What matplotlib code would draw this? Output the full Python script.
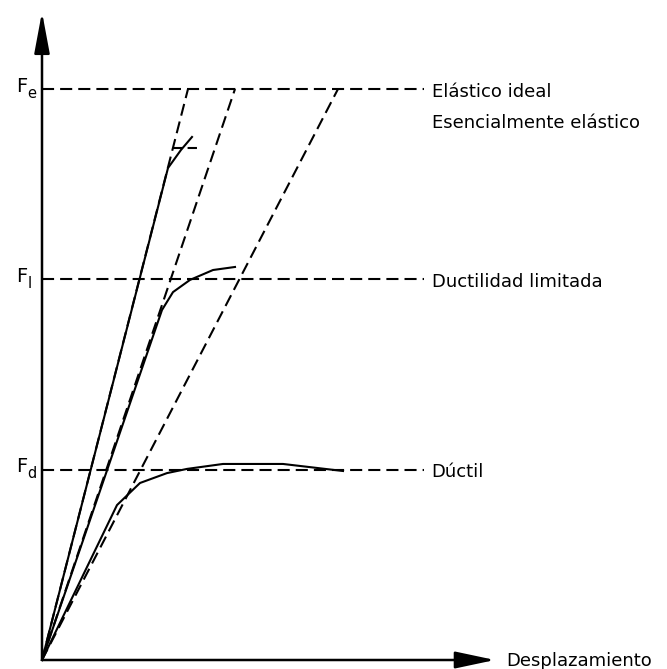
import matplotlib
matplotlib.use("Agg")
import matplotlib.pyplot as plt

plt.rcParams['font.family'] = ['DejaVu Sans']

# Force levels (relative units)
F_e, F_l, F_d = 3.0, 2.0, 1.0
force_levels = [F_e, F_l, F_d]
force_labels = [("F", "e"), ("F", "l"), ("F", "d")]
level_names = ["Elástico ideal", "Ductilidad limitada", "Dúctil"]

# Ideal elastic lines: displacement at which they reach F_e
elastic_x_at_Fe = [1.46, 1.93, 2.96]

# Responses (displacement, force)
ess_x = [0.0, 1.26, 1.39, 1.50]
ess_y = [0.0, 2.585, 2.68, 2.748]
yield_mark_x = [1.31, 1.55]
yield_mark_y = [2.69, 2.69]

lim_x = [0.0, 1.20, 1.31, 1.48, 1.71, 1.93]
lim_y = [0.0, 1.839, 1.933, 1.997, 2.049, 2.065]

duct_x = [0.0, 0.75, 0.98, 1.25, 1.45, 1.81, 2.41, 3.01]
duct_y = [0.0, 0.814, 0.930, 0.982, 1.004, 1.030, 1.030, 0.993]

W, H = 667, 669
PX_Y = 190.33  # pixels per force unit
PX_X = 100.0   # pixels per displacement unit
fig = plt.figure(figsize=(W / 100, H / 100), dpi=100)
ax = fig.add_axes([0, 0, 1, 1])
ax.set_xlim(-42 / PX_X, (W - 42) / PX_X)
ax.set_ylim(-9 / PX_Y, 660 / PX_Y)
ax.axis('off')

lw = 1.5
dash = (0, (5.8, 2.9))
line_end = 3.82
fs = 13

# axes arrows
ax.annotate('', xy=(0, 648 / PX_Y), xytext=(0, 0),
            arrowprops=dict(arrowstyle='-|>,head_length=2.52,head_width=0.47',
                            mutation_scale=10, lw=lw + 0.3, color='k',
                            shrinkA=0, shrinkB=0))
ax.annotate('', xy=(4.53, 0), xytext=(0, 0),
            arrowprops=dict(arrowstyle='-|>,head_length=2.45,head_width=0.52',
                            mutation_scale=10, lw=lw + 0.3, color='k',
                            shrinkA=0, shrinkB=0))
ax.text(4.645, -6 / PX_Y, "Desplazamiento", fontsize=fs, ha='left', va='baseline')

# force levels
for F, (main, sub), name in zip(force_levels, force_labels, level_names):
    ax.plot([0, line_end], [F, F], color='k', lw=lw, linestyle=dash)
    ax.text(-0.145, F - 2.5 / PX_Y, main, fontsize=14, ha='right', va='baseline')
    ax.text(-0.145, F - 8.5 / PX_Y, sub, fontsize=10.5, ha='left', va='baseline')
    ax.text(3.895, F - 7.5 / PX_Y, name, fontsize=fs, ha='left', va='baseline')

ax.text(3.895, (660 - 128) / PX_Y, "Esencialmente elástico", fontsize=fs,
        ha='left', va='baseline')

# ideal elastic dashed lines
for xe in elastic_x_at_Fe:
    ax.plot([0, xe], [0, F_e], color='k', lw=lw, linestyle=dash)

# responses
ax.plot(ess_x, ess_y, color='k', lw=lw)
ax.plot(yield_mark_x, yield_mark_y, color='k', lw=lw, linestyle=(0, (4.5, 2.5)))
ax.plot(lim_x, lim_y, color='k', lw=lw)
ax.plot(duct_x, duct_y, color='k', lw=lw)

fig.savefig("out.png", dpi=100)
